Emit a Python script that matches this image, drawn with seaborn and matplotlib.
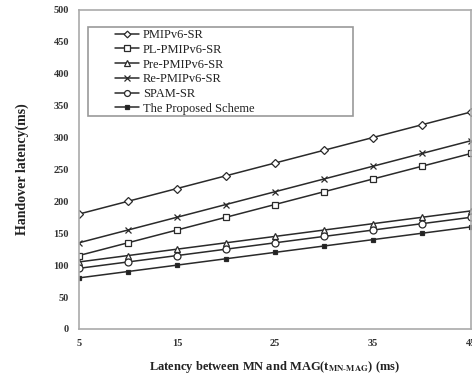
import matplotlib
matplotlib.use("Agg")
import matplotlib.pyplot as plt
from matplotlib.patches import Rectangle
import seaborn as sns
import pandas as pd

latency = [5, 10, 15, 20, 25, 30, 35, 40, 45]
pmipv6_sr = [180, 200, 220, 240, 260, 280, 300, 320, 340]
pl_pmipv6_sr = [115, 135, 155, 175, 195, 215, 235, 255, 275]
pre_pmipv6_sr = [105, 115, 125, 135, 145, 155, 165, 175, 185]
re_pmipv6_sr = [135, 155, 175, 195, 215, 235, 255, 275, 295]
spam_sr = [95, 105, 115, 125, 135, 145, 155, 165, 175]
proposed = [80, 90, 100, 110, 120, 130, 140, 150, 160]

series_names = ["PMIPv6-SR", "PL-PMIPv6-SR", "Pre-PMIPv6-SR",
                "Re-PMIPv6-SR", "SPAM-SR", "The Proposed Scheme"]
series_values = [pmipv6_sr, pl_pmipv6_sr, pre_pmipv6_sr,
                 re_pmipv6_sr, spam_sr, proposed]

rows = []
for name, vals in zip(series_names, series_values):
    for x, y in zip(latency, vals):
        rows.append({"latency": x, "value": y, "scheme": name})
df = pd.DataFrame(rows)

sns.set_style("white")
plt.rcParams["font.family"] = ["Liberation Serif", "DejaVu Serif"]
plt.rcParams["mathtext.fontset"] = "stix"

fig = plt.figure(figsize=(4.72, 3.79), dpi=100)
ax = fig.add_axes([0.167, 0.132, 0.831, 0.842])

styles = {
    "PMIPv6-SR": dict(marker="D", ms=4, mfc="white"),
    "PL-PMIPv6-SR": dict(marker="s", ms=5, mfc="white"),
    "Pre-PMIPv6-SR": dict(marker="^", ms=5, mfc="white"),
    "Re-PMIPv6-SR": dict(marker="x", ms=5, mfc="white"),
    "SPAM-SR": dict(marker="o", ms=5, mfc="white"),
    "The Proposed Scheme": dict(marker="s", ms=3.5, mfc="#222222"),
}

line_color = "#2a2a2a"
for name in series_names:
    sub = df[df["scheme"] == name]
    st = styles[name]
    sns.lineplot(data=sub, x="latency", y="value", ax=ax, label=name,
                 color=line_color, lw=1.1, marker=st["marker"],
                 markersize=st["ms"], markerfacecolor=st["mfc"],
                 markeredgecolor=line_color, markeredgewidth=0.9)

ax.set_xlim(5, 45)
ax.set_ylim(0, 500)
ax.set_xticks([5, 15, 25, 35, 45])
ax.set_yticks(range(0, 501, 50))
ax.tick_params(axis="both", direction="in", length=3, color="#999999",
               labelsize=7.5, pad=7)
for lab in ax.get_xticklabels() + ax.get_yticklabels():
    lab.set_fontweight("bold")
    lab.set_color("#333333")
for sp in ax.spines.values():
    sp.set_color("#aaaaaa")
    sp.set_linewidth(1.2)

ax.set_xlabel(r"Latency between MN and MAG(t$_{\mathbf{MN\text{-}MAG}}$) (ms)",
              fontsize=9, fontweight="bold", labelpad=8, color="#222222")
ax.set_ylabel("Handover latency(ms)", fontsize=10, fontweight="bold",
              labelpad=18, color="#222222")

# legend entries without their own frame; a wider box is drawn around them
leg = ax.legend(loc="upper left", bbox_to_anchor=(0.093, 0.94),
                frameon=False, fontsize=9, handlelength=1.9,
                handletextpad=0.3, borderpad=0.0, labelspacing=0.22,
                borderaxespad=0, markerscale=0.85)
for t in leg.get_texts():
    t.set_color("#222222")

ax.add_patch(Rectangle((0.023, 0.668), 0.676, 0.279, transform=ax.transAxes,
                       fill=False, edgecolor="#999999", lw=1.2, zorder=5))

fig.savefig("out.png", dpi=100)
